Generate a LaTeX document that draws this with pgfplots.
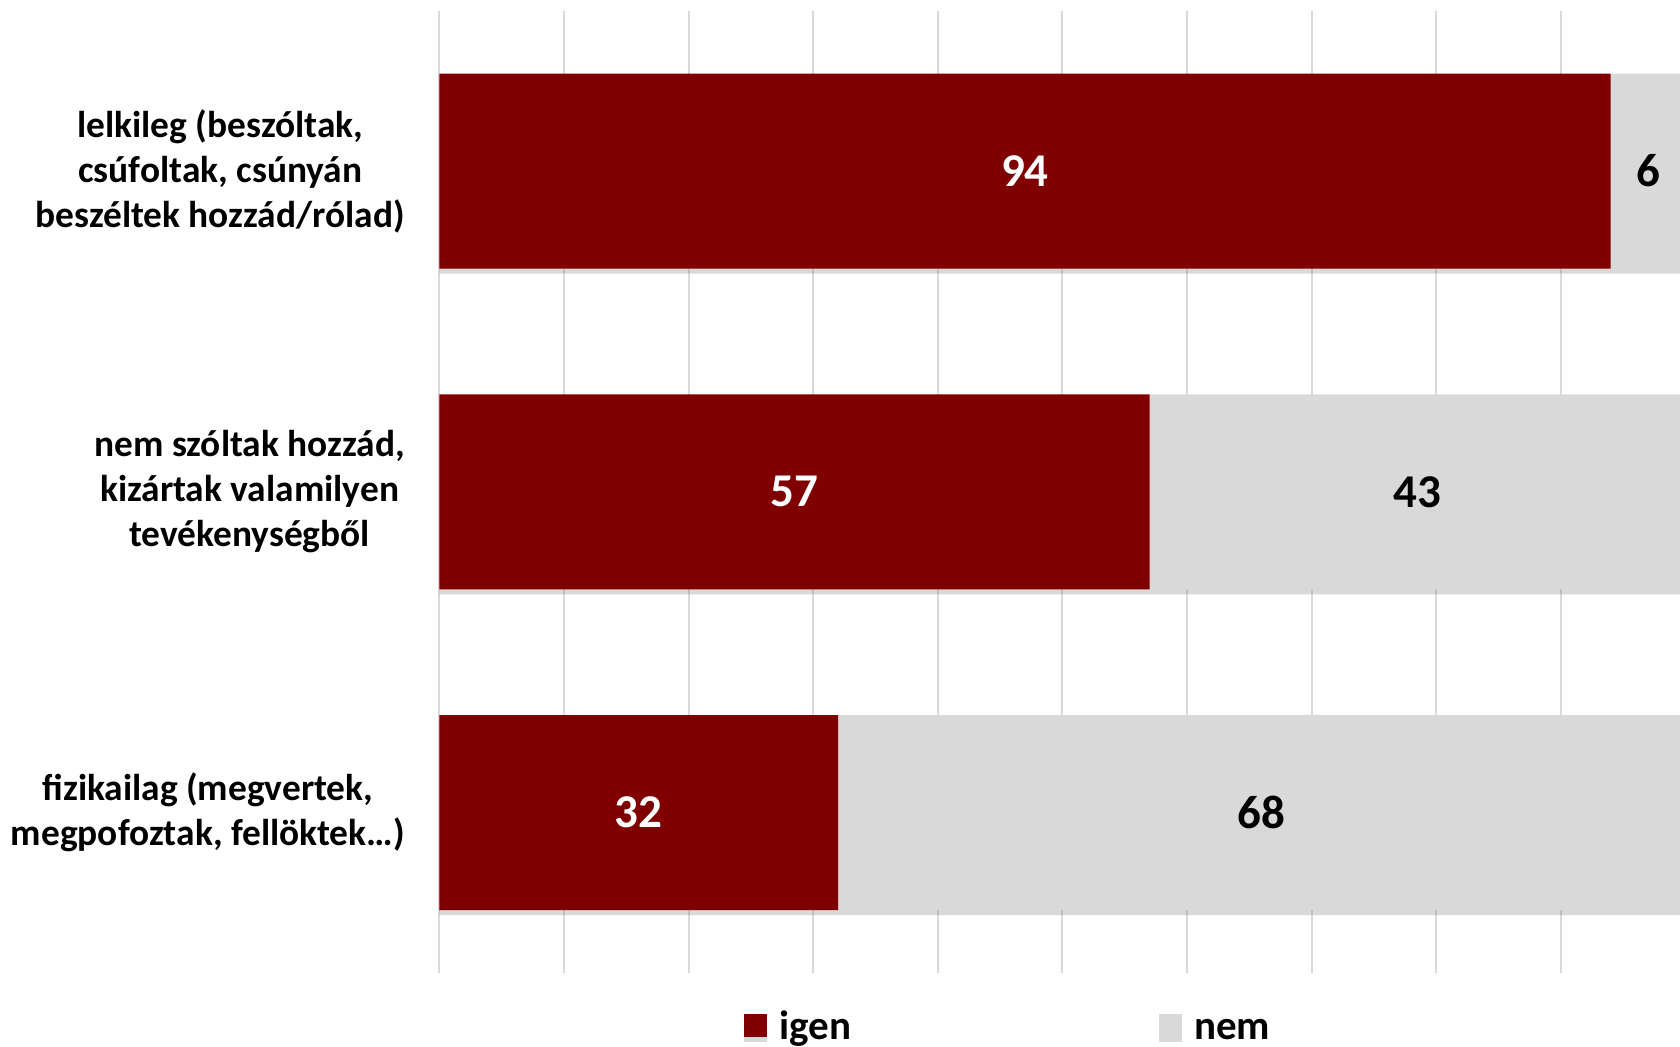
\documentclass[border=0pt]{standalone}
\usepackage{pgfplots}
\pgfplotsset{compat=1.18}
\usepackage{fontspec}
\setmainfont{Carlito}
\usetikzlibrary{shadows}
\definecolor{igen}{HTML}{800000}
\definecolor{nem}{HTML}{D9D9D9}
\definecolor{gridc}{HTML}{D9D9D9}
\begin{document}
\begin{tikzpicture}[font=\bfseries]
\pgfplotsset{
  base/.style={
    at={(0pt,0pt)}, anchor=south west,
    scale only axis, width=620.35pt, height=481.15pt,
    xmin=0, xmax=99.57, ymin=-0.5, ymax=2.5, y dir=reverse,
  }
}
\begin{axis}[base,
  xbar stacked, bar width=0.608,
  xtick={0,10,...,90}, xticklabels={},
  xmajorgrids, grid style={draw=gridc, line width=1pt},
  ytick={0,1,2},
  yticklabels={{lelkileg (beszóltak,\\csúfoltak, csúnyán\\beszéltek hozzád/rólad)},
               {nem szóltak hozzád,\\kizártak valamilyen\\tevékenységből},
               {fizikailag (megvertek,\\megpofoztak, fellöktek…)}},
  yticklabel style={align=center, font=\fontsize{18.7}{22.5}\selectfont\bfseries, inner sep=0pt, xshift=-17pt},
  axis line style={draw=none}, major tick length=0pt,
  legend columns=2,
  legend style={draw=none, fill=none, inner sep=0pt, at={(0.2456,0)}, anchor=west, yshift=-28pt,
    font=\fontsize{20.5}{24}\selectfont\bfseries,
    nodes={inner xsep=0pt, inner ysep=0pt, text height=1.5ex, text depth=0.5ex},
    /tikz/every odd column/.append style={column sep=6pt},
    /tikz/every even column/.append style={column sep=154pt}},
  legend image code/.code={\fill[#1] (0pt,-0.95pt) rectangle (11.5pt,10.55pt);},
]
\addplot[fill=igen, draw=none, drop shadow={shadow xshift=0pt, shadow yshift=-2.5pt, opacity=0.3}]
  coordinates {(94,0) (57,1) (32,2)};
\addlegendentry{igen}
\addplot[fill=nem, draw=none, drop shadow={shadow xshift=0pt, shadow yshift=-2.5pt, opacity=0.3}]
  coordinates {(6,0) (43,1) (68,2)};
\addlegendentry{nem}
\end{axis}
\begin{axis}[base, hide axis,
  nodes near coords, point meta=explicit symbolic,
  nodes near coords style={anchor=center, font=\fontsize{23.5}{28}\selectfont\bfseries}]
\addplot[draw=none, mark=none, nodes near coords style={text=white}]
  coordinates {(47,0) [94] (28.5,1) [57] (16,2) [32]};
\addplot[draw=none, mark=none, nodes near coords style={text=black}]
  coordinates {(97,0) [6] (78.5,1) [43] (66,2) [68]};
\end{axis}
\pgfresetboundingbox
\path[use as bounding box] (-219.65pt,-36.5pt) rectangle (620.35pt,486.5pt);
\end{tikzpicture}
\end{document}
